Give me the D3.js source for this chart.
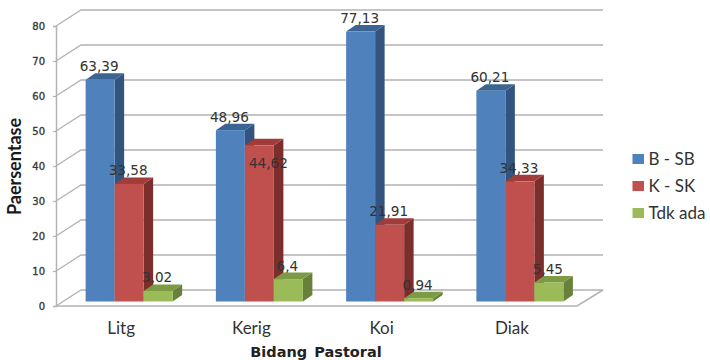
<!DOCTYPE html>
<html>
<head>
<meta charset="utf-8">
<script src="https://cdn.jsdelivr.net/npm/d3@7/dist/d3.min.js"></script>
<style>
html,body{margin:0;padding:0;background:#fff;}
svg{display:block;}
</style>
</head>
<body>
<svg id="chart" width="710" height="360"></svg>
<script>
// Survey percentages per pastoral field
const categories = ["Litg", "Kerig", "Koi", "Diak"];
const seriesNames = ["B - SB", "K - SK", "Tdk ada"];
const bSb = [63.39, 48.96, 77.13, 60.21];
const kSk = [33.58, 44.62, 21.91, 34.33];
const tdkAda = [3.02, 6.4, 0.94, 5.45];
const yTicks = [0, 10, 20, 30, 40, 50, 60, 70, 80];
const seriesValues = [bSb, kSk, tdkAda];

const faceColors = ["#4f81bd", "#c0504d", "#9bbb59"];
const topColors = ["#3c6492", "#a03d3b", "#7d9a44"];
const sideColors = ["#33547f", "#7b2e2c", "#67803a"];
const gridColor = "#b3b3b3";

// Oblique projection: the wall sits behind the front plane, bars halfway in
const wallDx = 25, wallDy = -16;
const barShiftX = 8, barShiftY = -4.5;
const barDepthX = 9.5, barDepthY = -6.5;

const svg = d3.select("#chart");
const x = d3.scaleBand().domain(categories).range([56, 577]);
const y = d3.scaleLinear().domain([0, 80]).range([306, 26]);
const groupWidth = 87;
const bar = d3.scaleBand().domain(d3.range(seriesNames.length)).range([0, groupWidth]);
const groupLeft = c => x(c) + (x.bandwidth() - groupWidth) / 2 + barShiftX;

// Back wall and side wall gridlines
const grid = svg.append("g").attr("fill", "none").attr("stroke", gridColor).attr("stroke-width", 1.3);
grid.selectAll("path").data(yTicks).join("path")
  .attr("d", t => {
    const p = d3.path();
    p.moveTo(x.range()[0], y(t));
    p.lineTo(x.range()[0] + wallDx, y(t) + wallDy);
    p.lineTo(x.range()[1] + 26, y(t) + wallDy);
    return p.toString();
  });

// Floor front edge and its return to the wall
const floor = d3.path();
floor.moveTo(x.range()[0], y(0));
floor.lineTo(x.range()[1], y(0));
floor.lineTo(x.range()[1] + 26, y(0) + wallDy);
svg.append("path").attr("d", floor.toString()).attr("fill", "none")
  .attr("stroke", gridColor).attr("stroke-width", 1.5);

// Value axis
const axis = d3.axisLeft(y).tickValues(yTicks).tickSize(3).tickPadding(8);
const axisG = svg.append("g").attr("transform", "translate(56,0)").call(axis);
axisG.select(".domain").attr("stroke", gridColor).attr("stroke-width", 1.5);
axisG.selectAll(".tick line").attr("stroke", gridColor).attr("stroke-width", 1.2);
axisG.selectAll("text").attr("font-family", "DejaVu Sans").attr("font-size", 10)
  .attr("font-weight", 400).attr("fill", "#3a3a3a").attr("stroke", "#3a3a3a").attr("stroke-width", 0.35);

// Bars: one oblique box per category and series
const rows = [];
categories.forEach((c, ci) => seriesValues.forEach((vals, si) => rows.push({c, si, v: vals[ci]})));
const baseY = v => y(v) + barShiftY;
const bars = svg.append("g").selectAll("g").data(rows).join("g");
const poly = pts => pts.map(p => p.join(",")).join(" ");
bars.append("polygon").attr("fill", d => sideColors[d.si]).attr("points", d => {
  const r = groupLeft(d.c) + bar(d.si) + bar.bandwidth();
  return poly([[r, baseY(d.v)], [r + barDepthX, baseY(d.v) + barDepthY], [r + barDepthX, baseY(0) + barDepthY], [r, baseY(0)]]);
});
bars.append("polygon").attr("fill", d => topColors[d.si]).attr("points", d => {
  const l = groupLeft(d.c) + bar(d.si), r = l + bar.bandwidth(), t = baseY(d.v);
  return poly([[l, t], [r, t], [r + barDepthX, t + barDepthY], [l + barDepthX, t + barDepthY]]);
});
bars.append("rect").attr("fill", d => faceColors[d.si])
  .attr("x", d => groupLeft(d.c) + bar(d.si))
  .attr("y", d => baseY(d.v))
  .attr("width", bar.bandwidth())
  .attr("height", d => baseY(0) - baseY(d.v));

// Value labels sit above each bar; the Kerig K - SK label was placed inside its bar
const fmt = v => String(v).replace(".", ",");
svg.append("g").selectAll("text").data(rows).join("text")
  .attr("font-family", "DejaVu Sans").attr("font-size", 13.6).attr("fill", "#333")
  .attr("text-anchor", "middle")
  .attr("x", d => groupLeft(d.c) + bar(d.si) + bar.bandwidth() / 2 + (d.v === 44.62 ? 9 : -1))
  .attr("y", d => baseY(d.v) + (d.v === 44.62 ? 23 : -8.5))
  .text(d => fmt(d.v));

// Category labels
svg.append("g").selectAll("text").data(categories).join("text")
  .attr("font-family", "Lato").attr("font-size", 17).attr("fill", "#333")
  .attr("text-anchor", "middle")
  .attr("x", c => x(c) + x.bandwidth() / 2)
  .attr("y", 334)
  .text(c => c);

// Axis titles
svg.append("text").attr("transform", "translate(21,166.5) rotate(-90)")
  .attr("font-family", "Lato").attr("font-size", 18).attr("font-weight", 700)
  .attr("fill", "#1a1a1a").attr("text-anchor", "middle").text("Paersentase");
svg.append("text").attr("x", 316).attr("y", 357)
  .attr("font-family", "DejaVu Sans").attr("font-size", 14.5).attr("font-weight", 700)
  .attr("fill", "#222").attr("text-anchor", "middle").attr("word-spacing", 2).text("Bidang Pastoral");

// Legend
const legendY = d3.scalePoint().domain(seriesNames).range([159, 213]);
const legend = svg.append("g").selectAll("g").data(seriesNames).join("g");
legend.append("rect").attr("x", 632.5).attr("width", 11.5).attr("height", 10)
  .attr("y", n => legendY(n) - 5).attr("fill", (n, i) => faceColors[i]);
legend.append("text").attr("x", 648.5).attr("y", n => legendY(n) + 6)
  .attr("font-family", "Lato").attr("font-size", 17).attr("fill", "#333").text(n => n);
</script>
</body>
</html>
